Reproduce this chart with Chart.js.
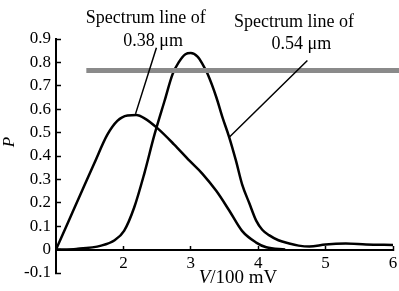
<!DOCTYPE html>
<html>
<head>
<meta charset="utf-8">
<script src="https://cdn.jsdelivr.net/npm/chart.js@4"></script>
<style>
  html, body { margin: 0; padding: 0; background: #fff; }
  #wrap { width: 399px; height: 291px; }
</style>
</head>
<body>
<div id="wrap"><canvas id="chart"></canvas></div>
<script>
// spectrum line of 0.38 um
const v038 = [1.0, 1.18, 1.38, 1.57, 1.76, 1.91, 2.06, 2.19, 2.32, 2.5, 2.75, 2.98, 3.17, 3.38, 3.57, 3.76, 3.97, 4.12, 4.4];
const p038 = [0.0, 0.117, 0.247, 0.37, 0.49, 0.55, 0.573, 0.575, 0.56, 0.52, 0.45, 0.38, 0.325, 0.25, 0.167, 0.08, 0.03, 0.01, 0.0];

// spectrum line of 0.54 um
const v054 = [1.0, 1.3, 1.67, 1.87, 2.01, 2.16, 2.31, 2.46, 2.61, 2.73, 2.82, 2.92, 3.0, 3.1, 3.17, 3.25, 3.38, 3.47, 3.57, 3.67, 3.76, 3.87, 3.97, 4.06, 4.16, 4.3, 4.46, 4.6, 4.76, 5.0, 5.3, 5.6, 6.0];
const p054 = [0.0, 0.003, 0.017, 0.04, 0.08, 0.18, 0.325, 0.49, 0.635, 0.75, 0.80, 0.835, 0.84, 0.825, 0.795, 0.75, 0.65, 0.565, 0.48, 0.38, 0.28, 0.197, 0.124, 0.085, 0.062, 0.04, 0.026, 0.017, 0.013, 0.022, 0.026, 0.022, 0.02];

// grey reference level
const refV = [1.45, 6.1];
const refP = [0.765, 0.765];

const xTicks = [2, 3, 4, 5, 6];

const toXY = (xs, ys) => xs.map((x, i) => ({x: x, y: ys[i]}));

const serif = 'Liberation Serif, Times New Roman, serif';

const notes = {
  id: 'notes',
  afterDraw(chart) {
    const ctx = chart.ctx;
    const xs = chart.scales.x, ys = chart.scales.y;
    const px = v => xs.getPixelForValue(v);
    const py = v => ys.getPixelForValue(v);
    ctx.save();
    ctx.fillStyle = '#000';
    ctx.strokeStyle = '#000';
    ctx.font = '18px ' + serif;
    ctx.textAlign = 'center';
    ctx.textBaseline = 'middle';
    ctx.fillText('Spectrum line of', px(2.33), py(0.99));
    ctx.fillText('0.38 μm', px(2.44), py(0.89));
    ctx.fillText('Spectrum line of', px(4.53), py(0.97));
    ctx.fillText('0.54 μm', px(4.64), py(0.876));

    ctx.lineWidth = 1.5;
    ctx.beginPath();
    ctx.moveTo(px(2.49), py(0.863));
    ctx.lineTo(px(2.18), py(0.58));
    ctx.moveTo(px(4.73), py(0.808));
    ctx.lineTo(px(3.57), py(0.48));
    ctx.stroke();

    // y title
    ctx.save();
    ctx.translate(10, py(0.46));
    ctx.rotate(-Math.PI / 2);
    ctx.font = 'italic 17px ' + serif;
    ctx.fillText('P', 0, 0);
    ctx.restore();

    // x title, V in italic
    const yT = chart.chartArea.bottom + 5;
    ctx.font = 'italic 19px ' + serif;
    const wV = ctx.measureText('V').width;
    ctx.font = '19px ' + serif;
    const wRest = ctx.measureText('/100 mV').width;
    let x0 = px(3.7) - (wV + wRest) / 2;
    ctx.textAlign = 'left';
    ctx.font = 'italic 19px ' + serif;
    ctx.fillText('V', x0, yT);
    ctx.font = '19px ' + serif;
    ctx.fillText('/100 mV', x0 + wV, yT);
    ctx.restore();
  }
};

new Chart(document.getElementById('chart'), {
  type: 'line',
  data: {
    datasets: [
      {
        data: toXY(refV, refP),
        borderColor: '#8a8a8a',
        borderWidth: 5,
        pointRadius: 0,
        clip: false
      },
      {
        data: toXY(v038, p038),
        borderColor: '#000',
        borderWidth: 2.5,
        pointRadius: 0,
        cubicInterpolationMode: 'monotone'
      },
      {
        data: toXY(v054, p054),
        borderColor: '#000',
        borderWidth: 2.5,
        pointRadius: 0,
        cubicInterpolationMode: 'monotone'
      }
    ]
  },
  options: {
    responsive: true,
    maintainAspectRatio: false,
    animation: false,
    layout: { padding: { top: 39, right: 6, bottom: 18, left: 0 } },
    plugins: {
      legend: { display: false },
      tooltip: { enabled: false }
    },
    scales: {
      x: {
        type: 'linear',
        position: { y: 0 },
        min: 1,
        max: 6,
        afterFit(scale) {
          scale.height = 0;
          scale.paddingLeft = 0;
          scale.paddingRight = 0;
        },
        afterBuildTicks(scale) {
          scale.ticks = [1].concat(xTicks).map(v => ({value: v}));
        },
        ticks: {
          padding: 9,
          color: '#000',
          font: { family: serif, size: 17 },
          callback: v => (v === 1 ? '' : String(v))
        },
        grid: {
          drawOnChartArea: false,
          tickLength: -5,
          tickColor: '#000',
          tickWidth: 1.5
        },
        border: { color: '#000', width: 2 }
      },
      y: {
        min: -0.1,
        max: 0.9,
        afterFit(scale) {
          scale.width = 56;
          scale.paddingTop = 0;
          scale.paddingBottom = 0;
        },
        ticks: {
          stepSize: 0.1,
          padding: 10,
          color: '#000',
          font: { family: serif, size: 17 },
          callback: v => (Math.abs(v) < 1e-9 ? '0' : v.toFixed(1))
        },
        grid: {
          drawOnChartArea: false,
          tickLength: -5,
          tickColor: '#000',
          tickWidth: 1.5
        },
        border: { color: '#000', width: 2 }
      }
    }
  },
  plugins: [notes]
});
</script>
</body>
</html>
